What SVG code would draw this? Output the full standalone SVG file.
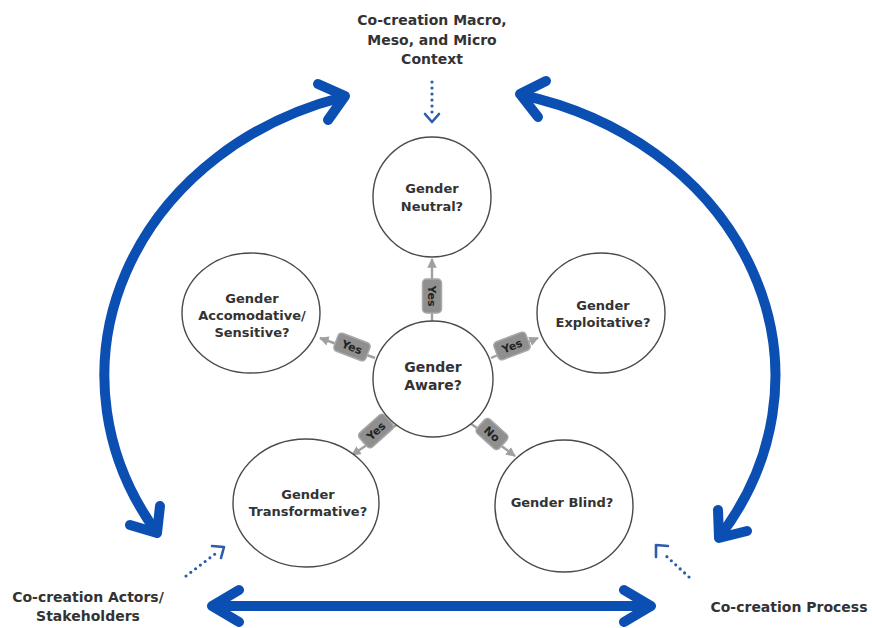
<svg xmlns="http://www.w3.org/2000/svg" width="872" height="628" viewBox="0 0 872 628">
<defs>
<style>
.node{fill:#fff;stroke:#4a4a4a;stroke-width:1.4}
.t{font-family:"DejaVu Sans","Liberation Sans",sans-serif;font-weight:bold;fill:#333;text-anchor:middle}
.nt{font-size:13px}
.ot{font-size:14px}
.big{fill:none;stroke:#0b4fb3;stroke-width:10;stroke-linecap:round;stroke-linejoin:round}
.dot{fill:none;stroke:#2d5cab;stroke-width:3.2;stroke-linecap:round;stroke-dasharray:0 6}
.dh{fill:none;stroke:#2d5cab;stroke-width:2.6;stroke-linecap:round;stroke-linejoin:round}
.cl{stroke:#a0a0a0;stroke-width:2.4;fill:none}
.lb{fill:#8f8f8f;stroke:#a8a8a8;stroke-width:1.5}
.lt{font-family:"DejaVu Sans","Liberation Sans",sans-serif;font-weight:bold;font-size:11px;fill:#222;text-anchor:middle}
</style>
<marker id="ga" viewBox="0 0 10 10" refX="9" refY="5" markerWidth="4" markerHeight="4" orient="auto" markerUnits="strokeWidth">
<path d="M0,0 L10,5 L0,10 z" fill="#a0a0a0"/>
</marker>
</defs>
<rect width="872" height="628" fill="#fff"/>

<g id="connectors">
<!-- big blue arcs -->
<path class="big" d="M 343,97 A 330 290 0 0 0 155,530"/>
<polyline class="big" points="318,84 345,96 328,120"/>
<polyline class="big" points="130,525 157,533 160,506"/>
<path class="big" d="M 522,95 A 335 290 0 0 1 720,536"/>
<polyline class="big" points="546,81 520,94 538,117"/>
<polyline class="big" points="747,531 719,538 718,510"/>
<line class="big" x1="214" y1="606" x2="650" y2="606"/>
<polyline class="big" points="239,590 212,606 239,622"/>
<polyline class="big" points="624,590 651,606 624,622"/>
<!-- dotted arrows -->
<line class="dot" x1="432" y1="82" x2="432" y2="114"/>
<polyline class="dh" points="425,114 432,122 439,114"/>
<line class="dot" x1="186" y1="576" x2="215" y2="554"/>
<polyline class="dh" points="212,546 224,547 221,558"/>
<line class="dot" x1="689" y1="577" x2="664" y2="554"/>
<polyline class="dh" points="668,546 656,545 656,557"/>
<!-- gray connectors -->
<line class="cl" x1="432" y1="321" x2="432" y2="259" marker-end="url(#ga)"/>
<line class="cl" x1="375" y1="358" x2="320" y2="338" marker-end="url(#ga)"/>
<line class="cl" x1="491" y1="358" x2="538" y2="338" marker-end="url(#ga)"/>
<line class="cl" x1="398" y1="424" x2="352" y2="455" marker-end="url(#ga)"/>
<line class="cl" x1="470" y1="423" x2="515" y2="456" marker-end="url(#ga)"/>
<!-- labels -->
<g transform="translate(432,296) rotate(90)"><rect class="lb" x="-17" y="-9.5" width="34" height="19" rx="4"/><text class="lt" y="4">Yes</text></g>
<g transform="translate(352,347) rotate(21)"><rect class="lb" x="-17" y="-9.5" width="34" height="19" rx="4"/><text class="lt" y="4">Yes</text></g>
<g transform="translate(512,346) rotate(-21)"><rect class="lb" x="-17" y="-9.5" width="34" height="19" rx="4"/><text class="lt" y="4">Yes</text></g>
<g transform="translate(376,431) rotate(-42)"><rect class="lb" x="-17" y="-9.5" width="34" height="19" rx="4"/><text class="lt" y="4">Yes</text></g>
<g transform="translate(492,434) rotate(42)"><rect class="lb" x="-15" y="-9.5" width="30" height="19" rx="4"/><text class="lt" y="4">No</text></g>
</g>

<g id="neutral">
<ellipse class="node" cx="432" cy="197" rx="59" ry="60"/>
<text class="t nt" x="432" y="193">Gender</text>
<text class="t nt" x="432" y="211">Neutral?</text>
</g>
<g id="accomodative">
<ellipse class="node" cx="251" cy="313" rx="69" ry="60"/>
<text class="t nt" x="252" y="303">Gender</text>
<text class="t nt" x="252" y="320">Accomodative/</text>
<text class="t nt" x="252" y="337">Sensitive?</text>
</g>
<g id="aware">
<ellipse class="node" cx="433" cy="379" rx="60" ry="58"/>
<text class="t" font-size="14" x="433" y="372">Gender</text>
<text class="t" font-size="14" x="433" y="390">Aware?</text>
</g>
<g id="exploitative">
<ellipse class="node" cx="601" cy="313" rx="64" ry="60"/>
<text class="t nt" x="603" y="310">Gender</text>
<text class="t nt" x="603" y="327">Exploitative?</text>
</g>
<g id="transformative">
<ellipse class="node" cx="306" cy="503" rx="73" ry="64"/>
<text class="t nt" x="308" y="499">Gender</text>
<text class="t nt" x="308" y="516">Transformative?</text>
</g>
<g id="blind">
<ellipse class="node" cx="564" cy="506" rx="69" ry="66"/>
<text class="t nt" x="562" y="507">Gender Blind?</text>
</g>

<g id="context">
<text class="t ot" x="432" y="25">Co-creation Macro,</text>
<text class="t ot" x="432" y="44.5">Meso, and Micro</text>
<text class="t ot" x="432" y="64">Context</text>
</g>
<g id="actors">
<text class="t ot" x="88" y="602">Co-creation Actors/</text>
<text class="t ot" x="88" y="621">Stakeholders</text>
</g>
<g id="process">
<text class="t ot" x="789" y="612">Co-creation Process</text>
</g>
</svg>
